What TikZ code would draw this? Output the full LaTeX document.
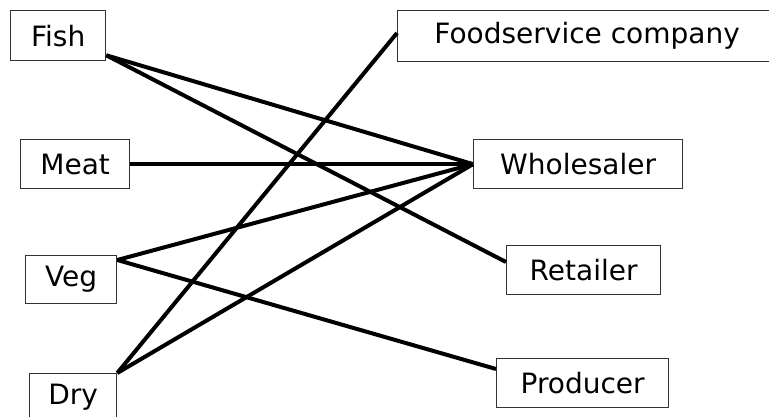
\documentclass[tikz,border=0pt]{standalone}
\usepackage{fontspec}
\setmainfont{DejaVu Sans}
\usetikzlibrary{calc}
\tikzset{
  box/.style={draw=black!80, line width=1.3pt, anchor=north west, inner sep=0pt,
              font=\fontsize{28}{33}\selectfont, align=center},
  link/.style={line width=4pt, black}
}
\begin{document}
\begin{tikzpicture}[x=1pt, y=-1pt]
  \useasboundingbox (0,0) rectangle (769,417);

  % sources
  \node[box, minimum width=95pt,  minimum height=50pt] (fish) at (10,10)  {Fish};
  \node[box, minimum width=109pt, minimum height=49pt] (meat) at (20,139) {Meat};
  \node[box, minimum width=91pt,  minimum height=48pt] (veg)  at (25,255) {Veg};
  \node[box, minimum width=87pt,  minimum height=48pt] (dry)  at (29,373) {Dry};

  % destinations
  \node[box, minimum width=379pt, minimum height=51pt] (food)   at (397,10)  {Foodservice company};
  \node[box, minimum width=209pt, minimum height=49pt] (whole)  at (473,139) {Wholesaler};
  \node[box, minimum width=154pt, minimum height=49pt] (retail) at (506,245) {Retailer};
  \node[box, minimum width=172pt, minimum height=49pt] (prod)   at (496,358) {Producer};

  % attachment points
  \coordinate (fishout) at ($(fish.south east)+(0,-6)$);
  \coordinate (vegout)  at ($(veg.north east)+(0,5)$);
  \coordinate (retin)   at ($(retail.north west)+(0,17)$);
  \coordinate (prodin)  at ($(prod.north west)+(0,11)$);
  \coordinate (foodin)  at ($(food.north west)+(0,23)$);

  % connectors
  \draw[link] (fishout) -- (whole.west);
  \draw[link] (fishout) -- (retin);
  \draw[link] (meat.east) -- (whole.west);
  \draw[link] (vegout) -- (whole.west);
  \draw[link] (vegout) -- (prodin);
  \draw[link] (dry.north east) -- (foodin);
  \draw[link] (dry.north east) -- (whole.west);
\end{tikzpicture}
\end{document}
